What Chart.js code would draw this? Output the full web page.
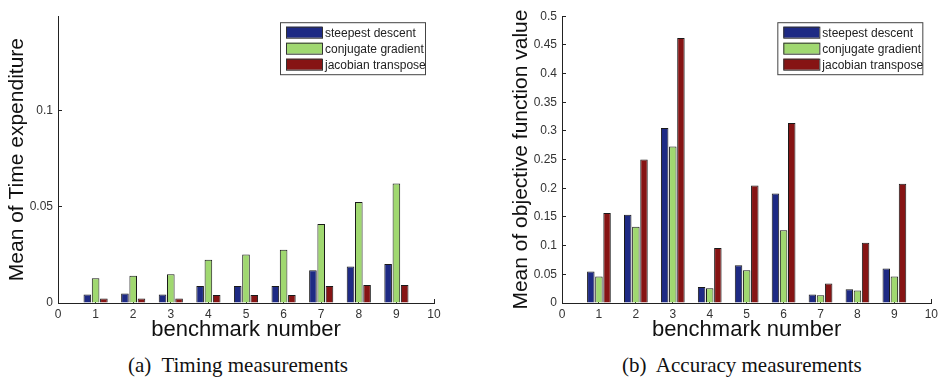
<!DOCTYPE html>
<html>
<head>
<meta charset="utf-8">
<script src="https://cdn.jsdelivr.net/npm/chart.js@4/dist/chart.umd.min.js"></script>
<style>
    body { margin: 0; background: #fff; }
    #page { position: relative; width: 946px; height: 383px; overflow: hidden; }
    .wrap { position: absolute; top: 0; height: 345px; }
    .caption { position: absolute; top: 353px; font: 21px "Liberation Serif", "DejaVu Serif", serif; color: #111; white-space: nowrap; }
</style>
</head>
<body>
<div id="page">
    <div class="wrap" style="left:0; width:460px;"><canvas id="timing" width="460" height="345"></canvas></div>
    <div class="wrap" style="left:470px; width:476px;"><canvas id="accuracy" width="476" height="345"></canvas></div>
    <div class="caption" style="left:128px;">(a)&nbsp; Timing measurements</div>
    <div class="caption" style="left:622px;">(b)&nbsp; Accuracy measurements</div>
</div>
<script>
// benchmark numbers on the x axis
const benchmarks = [1, 2, 3, 4, 5, 6, 7, 8, 9];
const seriesNames = ['steepest descent', 'conjugate gradient', 'jacobian transpose'];
const seriesColors = ['#1e2a84', '#a0d870', '#861414'];

// (a) mean time expenditure
const timeSteepest  = [0.0044, 0.0049, 0.0044, 0.0088, 0.0088, 0.0088, 0.0170, 0.0190, 0.0203];
const timeConjugate = [0.0129, 0.0141, 0.0149, 0.0225, 0.0252, 0.0276, 0.0410, 0.0525, 0.0621];
const timeJacobian  = [0.0024, 0.0024, 0.0024, 0.0041, 0.0041, 0.0041, 0.0088, 0.0093, 0.0093];

// (b) mean objective function value
const accSteepest  = [0.055, 0.154, 0.305, 0.028, 0.066, 0.191, 0.015, 0.024, 0.060];
const accConjugate = [0.046, 0.133, 0.273, 0.0255, 0.057, 0.127, 0.0136, 0.0216, 0.046];
const accJacobian  = [0.157, 0.250, 0.462, 0.096, 0.205, 0.314, 0.034, 0.105, 0.208];

const xTicks = [0, 1, 2, 3, 4, 5, 6, 7, 8, 9, 10];
const timeYTicks = [0, 0.05, 0.1];
const accYTicks = [0, 0.05, 0.1, 0.15, 0.2, 0.25, 0.3, 0.35, 0.4, 0.45, 0.5];

const tickFont = {family: '"Liberation Sans", Arial, sans-serif', size: 12};

// legend drawn inside the plot, top right, matlab style
const boxLegend = {
    id: 'boxLegend',
    afterDatasetsDraw(chart) {
        const ctx = chart.ctx, area = chart.chartArea;
        const w = 145, h = 52;
        const x = area.right - 9 - w, y = area.top + 6;
        ctx.save();
        ctx.fillStyle = '#fff';
        ctx.fillRect(x, y, w, h);
        ctx.strokeStyle = '#444';
        ctx.lineWidth = 1;
        ctx.strokeRect(x + 0.5, y + 0.5, w, h);
        ctx.font = '12px "Liberation Sans", Arial, sans-serif';
        ctx.textBaseline = 'middle';
        chart.data.datasets.forEach(function (ds, i) {
            let rowY = y + 10 + i * 16;
            ctx.fillStyle = ds.backgroundColor;
            ctx.fillRect(x + 6, rowY - 5.5, 36, 11);
            ctx.strokeStyle = '#333';
            ctx.strokeRect(x + 6.5, rowY - 5, 36, 11);
            ctx.fillStyle = '#222';
            ctx.fillText(ds.label, x + 45, rowY + 1);
        });
        ctx.restore();
    }
};

function makeDatasets(values) {
    return values.map(function (vals, i) {
        return {
            label: seriesNames[i],
            data: benchmarks.map(function (b, j) {
                return {x: b, y: vals[j]};
            }),
            backgroundColor: seriesColors[i],
            borderColor: '#1a1a1a',
            borderWidth: 1,
            categoryPercentage: 0.66,
            barPercentage: 0.92
        };
    });
}

function makeChart(canvasId, values, yTicks, yMax, yTitle, yWidth, yTitlePad, padRight) {
    return new Chart(document.getElementById(canvasId), {
        type: 'bar',
        data: {datasets: makeDatasets(values)},
        options: {
            responsive: false,
            animation: false,
            layout: {padding: {top: 9, right: padRight, left: 0, bottom: 0}},
            plugins: {legend: {display: false}, tooltip: {enabled: false}},
            scales: {
                x: {
                    type: 'linear',
                    min: 0,
                    max: 10,
                    offset: false,
                    afterBuildTicks: function (scale) {
                        scale.ticks = xTicks.map(function (v) { return {value: v}; });
                    },
                    afterFit: function (scale) { scale.height = 42; },
                    grid: {display: true, offset: false, drawOnChartArea: false, drawTicks: true, tickLength: -4, color: '#222'},
                    border: {display: true, color: '#222', width: 1},
                    ticks: {font: tickFont, color: '#333', padding: 8, maxRotation: 0},
                    title: {
                        display: true, text: 'benchmark number', color: '#111',
                        font: {family: '"Liberation Sans", Arial, sans-serif', size: 22},
                        padding: {top: 0, bottom: 2}
                    }
                },
                y: {
                    min: 0,
                    max: yMax,
                    afterBuildTicks: function (scale) {
                        scale.ticks = yTicks.map(function (v) { return {value: v}; });
                    },
                    afterFit: function (scale) { scale.width = yWidth; },
                    grid: {display: true, drawOnChartArea: false, drawTicks: true, tickLength: -4, color: '#222'},
                    border: {display: true, color: '#222', width: 1},
                    ticks: {
                        font: tickFont, color: '#333', padding: 9,
                        callback: function (v) { return String(+v.toFixed(2)); }
                    },
                    title: {
                        display: true, text: yTitle, color: '#111',
                        font: {family: '"Liberation Sans", Arial, sans-serif', size: 21},
                        padding: {top: yTitlePad, bottom: 0}
                    }
                }
            }
        },
        plugins: [boxLegend]
    });
}

makeChart('timing', [timeSteepest, timeConjugate, timeJacobian], timeYTicks, 0.149,
    'Mean of Time expenditure', 58, 5, 26);
makeChart('accuracy', [accSteepest, accConjugate, accJacobian], accYTicks, 0.5,
    'Mean of objective function value', 92, 39, 11);
</script>
</body>
</html>
